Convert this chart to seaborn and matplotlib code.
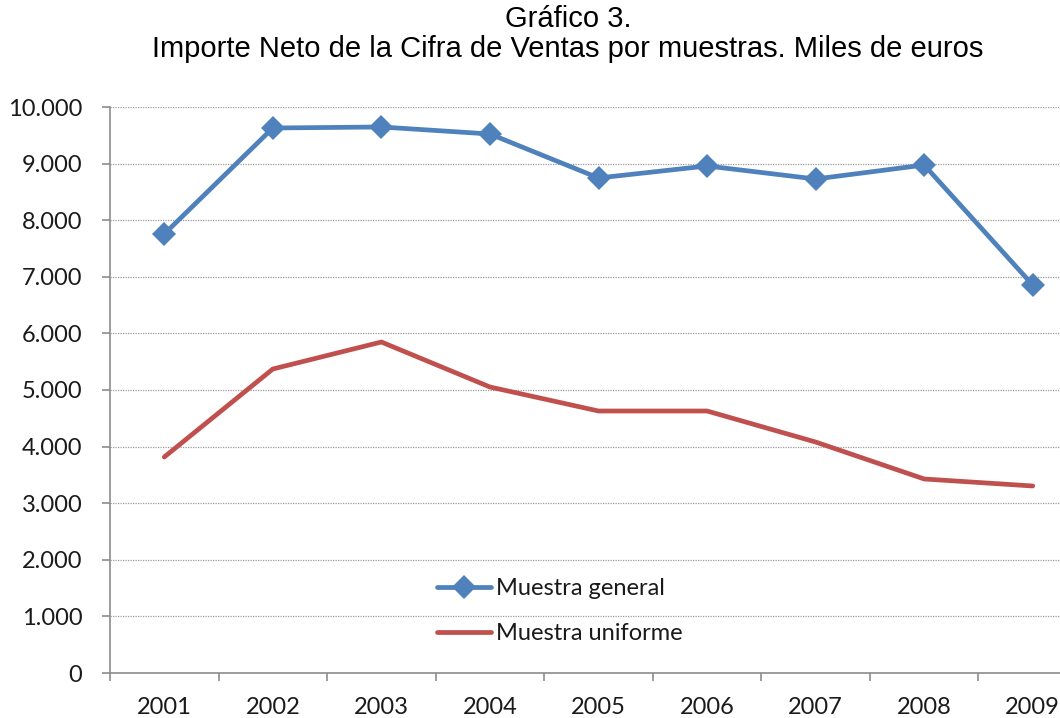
import numpy as np
import pandas as pd
import seaborn as sns
import matplotlib.pyplot as plt
from matplotlib.ticker import FixedLocator, FuncFormatter

years = ["2001", "2002", "2003", "2004", "2005", "2006", "2007", "2008", "2009"]
general = [7756, 9629, 9647, 9523, 8746, 8958, 8728, 8975, 6855]
uniforme = [3816, 5371, 5848, 5053, 4629, 4629, 4081, 3428, 3304]
series_names = ["Muestra general", "Muestra uniforme"]
yticks = [0, 1000, 2000, 3000, 4000, 5000, 6000, 7000, 8000, 9000, 10000]

pos = list(range(len(years)))

sns.set_theme(style="white")
plt.rcParams["font.family"] = ["Lato", "DejaVu Sans"]
plt.rcParams["text.color"] = "#1a1a1a"
plt.rcParams["xtick.color"] = "#1a1a1a"
plt.rcParams["ytick.color"] = "#1a1a1a"

fig = plt.figure(figsize=(10.6, 7.18), dpi=100)
# the original chart is cut off on the right, so the axes run past the figure
ax = fig.add_axes([110 / 1060, 45 / 718, 977 / 1060, 566 / 718])

sns.lineplot(x=pos, y=general, color="#4F81BD", marker="D", linewidth=3.4,
             markersize=12.5, markeredgewidth=0, label=series_names[0], ax=ax)
sns.lineplot(x=pos, y=uniforme, color="#C0504D", linewidth=3.4,
             label=series_names[1], ax=ax)

ax.set_xlim(-0.5, len(years) - 0.5)
ax.set_ylim(0, 10000)

ax.set_xticks(pos)
ax.set_xticklabels(years)
ax.xaxis.set_minor_locator(FixedLocator(np.arange(-0.5, len(years), 1)))
ax.tick_params(axis="x", which="major", length=0, pad=17, labelsize=17)
ax.tick_params(axis="x", which="minor", length=6, width=1.2, color="#8c8c8c",
               direction="out", bottom=True)

ax.set_yticks(yticks)
ax.yaxis.set_major_formatter(FuncFormatter(lambda v, p: f"{int(v):,}".replace(",", ".")))
ax.tick_params(axis="y", length=6, width=1.2, color="#8c8c8c", direction="out",
               left=True, pad=14, labelsize=17)

ax.grid(axis="y", linestyle=(0, (1, 1)), color="#9a9a9a", linewidth=0.9)
ax.grid(axis="x", visible=False)
sns.despine(ax=ax, top=True, right=True)
for s in ["left", "bottom"]:
    ax.spines[s].set_color("#8c8c8c")
    ax.spines[s].set_linewidth(1.2)

leg = ax.legend(loc="center left", bbox_to_anchor=(0.3347, 0.1095), frameon=False,
                fontsize=17, handlelength=2.3, labelspacing=1.0, handletextpad=0.2,
                borderpad=0, borderaxespad=0)

fig.text(568 / 1060, 1 - 19 / 718, "Gráfico 3.", ha="center", va="center",
         fontsize=21, color="black", family=["Liberation Sans", "DejaVu Sans"])
fig.text(568 / 1060, 1 - 49 / 718,
         "Importe Neto de la Cifra de Ventas por muestras. Miles de euros",
         ha="center", va="center", fontsize=21, color="black",
         family=["Liberation Sans", "DejaVu Sans"])

fig.savefig("out.png", dpi=100)
